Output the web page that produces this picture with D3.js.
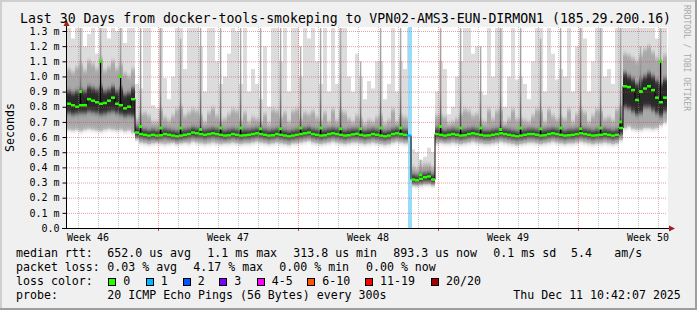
<!DOCTYPE html>
<html>
<head>
<meta charset="utf-8">
<script src="https://cdn.jsdelivr.net/npm/d3@7"></script>
<style>
html, body { margin: 0; padding: 0; background: #f0f0f0; }
svg { display: block; }
text { font-family: "DejaVu Sans Mono", monospace; fill: #000; }
</style>
</head>
<body>
<div id="chart"></div>
<script>
// time range of the graph, one bin = 4.8 hours (4 px)
const startTime = new Date(2025, 10, 11, 10, 42);
const endTime = new Date(2025, 11, 11, 10, 42);
const binHours = 4.8;

// median rtt per bin (ms)
const binMedian = [
  .82,.81,.80,.81,.81,.85,.84,.83,.82,.825,
  .84,.86,.82,.81,.79,.80,.85,.63,.62,.615,
  .61,.615,.61,.612,.62,.615,.61,.605,.61,.615,
  .62,.63,.625,.62,.615,.62,.625,.62,.615,.61,
  .612,.62,.615,.61,.612,.615,.62,.625,.62,.615,
  .61,.612,.62,.615,.61,.605,.61,.615,.62,.625,
  .63,.62,.615,.61,.612,.62,.625,.62,.615,.61,
  .612,.618,.622,.615,.61,.612,.62,.615,.61,.605,
  .61,.62,.625,.62,.615,.61,.32,.315,.325,.335,
  .34,.32,.62,.615,.61,.615,.62,.615,.61,.612,
  .62,.625,.62,.615,.61,.61,.615,.62,.625,.62,
  .615,.61,.605,.61,.615,.62,.62,.615,.61,.612,
  .62,.625,.62,.615,.61,.612,.615,.62,.625,.62,
  .615,.61,.612,.615,.62,.615,.61,.615,.66,.935,
  .93,.91,.845,.9,.92,.935,.91,.86,.83,.86
];
// fastest ping per bin
const binMin = [
  .65,.645,.65,.64,.65,.655,.65,.645,.64,.65,
  .655,.65,.645,.65,.64,.645,.63,.59,.565,.56,
  .555,.56,.565,.56,.555,.56,.565,.555,.56,.565,
  .56,.57,.565,.56,.555,.56,.565,.56,.555,.56,
  .56,.565,.56,.555,.56,.56,.565,.57,.565,.56,
  .555,.56,.565,.56,.555,.55,.56,.56,.565,.57,
  .575,.565,.56,.555,.56,.565,.57,.565,.56,.555,
  .56,.565,.565,.56,.555,.56,.565,.56,.555,.55,
  .555,.565,.57,.565,.56,.56,.285,.28,.285,.29,
  .29,.285,.56,.565,.56,.56,.565,.56,.555,.56,
  .565,.57,.565,.56,.555,.555,.56,.565,.57,.565,
  .56,.555,.55,.555,.56,.565,.565,.56,.555,.56,
  .565,.57,.565,.56,.555,.56,.56,.565,.57,.565,
  .56,.555,.56,.56,.565,.56,.555,.56,.58,.66,
  .67,.655,.65,.65,.66,.66,.655,.66,.68,.70
];
// lower quartile
const binQ1 = [
  .76,.75,.755,.76,.76,.77,.765,.76,.75,.755,
  .765,.77,.76,.75,.74,.745,.74,.605,.60,.595,
  .59,.595,.59,.595,.60,.595,.59,.585,.59,.595,
  .60,.605,.60,.60,.595,.60,.605,.60,.595,.59,
  .595,.60,.595,.59,.595,.595,.60,.605,.60,.595,
  .59,.595,.60,.595,.59,.585,.59,.595,.60,.605,
  .61,.60,.595,.59,.595,.60,.605,.60,.595,.59,
  .595,.60,.60,.595,.59,.595,.60,.595,.59,.585,
  .59,.60,.605,.60,.595,.595,.30,.30,.305,.31,
  .31,.30,.60,.595,.59,.595,.60,.595,.59,.595,
  .60,.605,.60,.595,.59,.59,.595,.60,.605,.60,
  .595,.59,.585,.59,.595,.60,.60,.595,.59,.595,
  .60,.605,.60,.595,.59,.595,.595,.60,.605,.60,
  .595,.59,.595,.595,.60,.595,.59,.595,.62,.80,
  .79,.77,.75,.76,.80,.80,.78,.76,.74,.77
];
// upper quartile
const binQ3 = [
  .90,.89,.90,.91,.90,.93,.92,.91,.93,.90,
  .91,.93,.90,.92,.88,.89,.92,.665,.65,.645,
  .64,.645,.64,.645,.65,.645,.64,.635,.64,.645,
  .65,.66,.655,.65,.645,.65,.655,.65,.645,.64,
  .645,.65,.645,.64,.645,.645,.65,.655,.65,.645,
  .64,.645,.65,.645,.64,.635,.64,.645,.65,.655,
  .66,.65,.645,.64,.645,.65,.655,.65,.645,.64,
  .645,.65,.65,.645,.64,.645,.65,.645,.64,.635,
  .64,.65,.655,.65,.645,.645,.35,.345,.355,.36,
  .365,.35,.655,.645,.64,.645,.65,.645,.64,.645,
  .65,.655,.65,.645,.64,.64,.645,.65,.655,.65,
  .645,.64,.635,.64,.645,.65,.65,.645,.64,.645,
  .65,.655,.65,.645,.64,.645,.645,.65,.655,.65,
  .645,.64,.645,.645,.65,.645,.64,.645,.70,1.02,
  1.0,.98,.95,.98,1.0,1.02,1.0,.97,.95,.98
];
// 90th percentile
const binP90 = [
  1.05,1.03,1.06,1.08,1.04,1.1,1.08,1.05,1.12,1.04,
  1.06,1.1,1.05,1.08,1.02,1.0,1.05,.72,.75,.76,
  .74,.70,.70,.78,.73,.71,.74,.78,.80,.74,
  .76,.78,.77,.74,.70,.76,.79,.74,.71,.72,
  .75,.78,.77,.71,.76,.70,.73,.72,.70,.75,
  .69,.78,.77,.73,.76,.70,.77,.78,.72,.76,
  .75,.77,.73,.71,.76,.70,.78,.71,.77,.76,
  .72,.70,.74,.72,.69,.71,.70,.73,.74,.69,
  .71,.78,.70,.74,.73,.72,.40,.39,.41,.42,
  .42,.40,.74,.74,.73,.69,.70,.72,.75,.78,
  .77,.74,.75,.71,.70,.78,.72,.77,.78,.69,
  .72,.78,.72,.72,.71,.70,.74,.78,.77,.70,
  .78,.74,.72,.73,.72,.78,.70,.75,.78,.76,
  .70,.74,.78,.77,.72,.73,.71,.78,.80,1.15,
  1.14,1.12,1.1,1.14,1.18,1.2,1.16,1.12,1.1,1.14
];
// slowest ping per bin
const binMax = [
  1.32,1.25,1.32,1.32,1.2,1.28,1.32,1.15,1.32,1.32,
  1.25,1.32,1.3,1.32,1.22,1.32,1.32,.95,.92,1.32,
  1.32,.81,.79,1.32,.99,.85,1.0,1.32,1.32,1.05,
  1.32,1.32,1.32,1.2,.9,1.32,1.32,1.1,.95,1.0,
  1.15,1.32,1.3,.95,1.32,.9,1.05,.95,.85,1.2,
  .8,1.32,1.32,1.1,1.32,.9,1.32,1.32,1.0,1.32,
  1.25,1.32,1.1,.95,1.32,.9,1.32,.95,1.32,1.32,
  1.0,.9,1.15,1.0,.85,.97,.92,1.1,1.1,.85,
  .95,1.32,.9,1.1,1.05,1.32,.52,.5,.45,.47,
  .53,.5,.9,1.1,1.05,.75,.8,1.0,1.1,1.32,
  1.32,1.15,1.2,.9,.88,1.32,1.0,1.32,1.32,.8,
  1.0,1.32,.98,1.0,.95,.85,1.1,1.32,1.32,.9,
  1.32,1.15,.98,1.05,1.0,1.32,.9,1.2,1.32,1.25,
  .9,1.1,1.32,1.32,1.0,1.05,.95,1.32,1.32,1.32,
  1.32,1.32,1.32,1.32,1.32,1.32,1.32,1.25,1.32,1.32
];

// daily 03:00 spikes, first one on Nov 12
const spikeMedian = [.90,1.10,1.00,.67,.66,.66,.65,.66,.66,.655,.655,.66,.66,.655,.655,
                     .66,.66,.35,.67,.66,.66,.65,.66,.655,.66,.655,.66,.70,.90,1.10];
const spikeMax = [1.32,1.32,1.32,1.32,1.32,1.25,1.32,1.32,1.32,1.32,1.32,1.2,1.32,1.32,1.1,
                  1.32,1.32,.45,1.32,1.32,1.2,1.32,1.32,1.25,1.32,1.32,1.32,1.32,1.2,1.32];

// bins with packet loss (lost pings of 20)
const lossBins = [85];
const lossCount = [1];

const lossLabels = ["0", "1", "2", "3", "4-5", "6-10", "11-19", "20/20"];
const lossColors = ["#26ff00", "#00b8ff", "#0059ff", "#7e00ff", "#ff00ff", "#ff5500", "#ff0000", "#a10000"];

const yTickValues = [0, .1, .2, .3, .4, .5, .6, .7, .8, .9, 1.0, 1.1, 1.2, 1.3];
const yTickLabels = ["0.0", "0.1 m", "0.2 m", "0.3 m", "0.4 m", "0.5 m", "0.6 m", "0.7 m",
                     "0.8 m", "0.9 m", "1.0 m", "1.1 m", "1.2 m", "1.3 m"];
const weekLabels = ["Week 46", "Week 47", "Week 48", "Week 49", "Week 50"];
const weekMid = [new Date(2025, 10, 12, 12), new Date(2025, 10, 19, 12), new Date(2025, 10, 26, 12),
                 new Date(2025, 11, 3, 12), new Date(2025, 11, 10, 12)];

const W = 697, H = 310;
const x = d3.scaleTime().domain([startTime, endTime]).range([67, 667]);
const y = d3.scaleLinear().domain([0, 1.3]).range([228, 31]);
const binTime = i => new Date(+startTime + i * binHours * 3600e3);
const nb = binMedian.length;
const val = (arr, i) => arr[Math.min(i, nb - 1)];
const idx = d3.range(nb + 1);

const svg = d3.select("#chart").append("svg").attr("width", W).attr("height", H);

// background and 3d frame
svg.append("rect").attr("width", W).attr("height", H).attr("fill", "#f0f0f0");
svg.append("rect").attr("width", W).attr("height", 2).attr("fill", "#cfcfcf");
svg.append("rect").attr("width", 2).attr("height", H).attr("fill", "#cfcfcf");
svg.append("rect").attr("y", H - 2).attr("width", W).attr("height", 2).attr("fill", "#9e9e9e");
svg.append("rect").attr("x", W - 2).attr("width", 2).attr("height", H).attr("fill", "#9e9e9e");

const defs = svg.append("defs");
defs.append("clipPath").attr("id", "plot")
  .append("rect").attr("x", 67).attr("y", 27).attr("width", 601).attr("height", 201);
defs.append("filter").attr("id", "blur1")
  .attr("x", "-5%").attr("y", "-30%").attr("width", "110%").attr("height", "160%")
  .append("feGaussianBlur").attr("stdDeviation", "0 2.5");
defs.append("filter").attr("id", "blur2")
  .attr("x", "-5%").attr("y", "-30%").attr("width", "110%").attr("height", "160%")
  .append("feGaussianBlur").attr("stdDeviation", "0 2.5");
const grad = defs.append("linearGradient").attr("id", "spikeGrad")
  .attr("x1", 0).attr("y1", 1).attr("x2", 0).attr("y2", 0);
grad.append("stop").attr("offset", "0%").attr("stop-color", "#111");
grad.append("stop").attr("offset", "12%").attr("stop-color", "#555");
grad.append("stop").attr("offset", "40%").attr("stop-color", "#8e8e8e");
grad.append("stop").attr("offset", "100%").attr("stop-color", "#b0b0b0");

// canvas
svg.append("rect").attr("x", 67).attr("y", 27).attr("width", 601).attr("height", 201).attr("fill", "#fff");

const plot = svg.append("g").attr("clip-path", "url(#plot)");

// smoke
const band = (lo, hi) => d3.area().curve(d3.curveStepAfter)
  .x(i => x(binTime(i)))
  .y0(i => y(val(lo, i)))
  .y1(i => y(val(hi, i)));

plot.append("path").datum(idx).attr("d", band(binMin, binMax)).attr("fill", "#dcdcdc");
plot.append("path").datum(idx).attr("d", band(binMin, binP90)).attr("fill", "#a8a8a8")
  .attr("filter", "url(#blur2)");
plot.append("path").datum(idx).attr("d", band(binQ1, binQ3)).attr("fill", "#2a2a2a")
  .attr("filter", "url(#blur1)");

// daily spikes
const spikeTime = d => new Date(2025, 10, 12 + d, 3, 0);
const binOf = t => Math.floor((t - startTime) / (binHours * 3600e3));
plot.selectAll(".spike").data(spikeMedian).join("rect")
  .attr("x", (d, i) => x(spikeTime(i)) - 0.75)
  .attr("width", 1.5)
  .attr("y", (d, i) => y(spikeMax[i]))
  .attr("height", (d, i) => y(binMedian[binOf(spikeTime(i))]) - y(spikeMax[i]))
  .attr("fill", "url(#spikeGrad)");

// loss bars
const lightLoss = c => d3.interpolateRgb(c, "#f4f4f4")(0.62);
plot.selectAll(".lossbar").data(lossBins).join("rect")
  .attr("x", b => x(binTime(b)) + 1)
  .attr("width", b => x(binTime(b + 1)) - x(binTime(b)))
  .attr("y", 27).attr("height", 201)
  .attr("fill", (b, i) => lightLoss(lossColors[Math.min(lossCount[i], 3)]));

// grid
const gridH = svg.append("g");
yTickValues.slice(1).forEach(v => {
  gridH.append("line").attr("x1", 67).attr("x2", 667).attr("y1", y(v) + 0.5).attr("y2", y(v) + 0.5)
    .attr("stroke", "rgba(215,60,60,0.5)").attr("stroke-dasharray", "1,1");
});
d3.timeDay.range(startTime, endTime).forEach(t => {
  const sunday = t.getDay() === 0;
  gridH.append("line").attr("x1", Math.round(x(t)) + 0.5).attr("x2", Math.round(x(t)) + 0.5)
    .attr("y1", 27).attr("y2", 228)
    .attr("stroke", sunday ? "rgba(215,60,60,0.5)" : "rgba(140,140,140,0.5)")
    .attr("stroke-dasharray", "1,1");
  if (sunday) {
    svg.append("line").attr("x1", Math.round(x(t)) + 0.5).attr("x2", Math.round(x(t)) + 0.5)
      .attr("y1", 229).attr("y2", 231).attr("stroke", "#d04040");
  }
});

// median
const lossOf = i => {
  const k = lossBins.indexOf(i);
  return k < 0 ? 0 : lossCount[k];
};
plot.append("path").datum(idx)
  .attr("d", d3.line().curve(d3.curveStepAfter).x(i => x(binTime(i))).y(i => y(val(binMedian, i))))
  .attr("fill", "none").attr("stroke", "#000").attr("stroke-width", 1);
plot.selectAll(".spikeline").data(spikeMedian).join("line")
  .attr("x1", (d, i) => x(spikeTime(i))).attr("x2", (d, i) => x(spikeTime(i)))
  .attr("y1", (d, i) => y(binMedian[binOf(spikeTime(i))])).attr("y2", d => y(d))
  .attr("stroke", "#000").attr("stroke-width", 1.2);
plot.selectAll(".med").data(binMedian).join("line")
  .attr("x1", (d, i) => x(binTime(i)))
  .attr("x2", (d, i) => x(binTime(i + 1)))
  .attr("y1", d => y(d)).attr("y2", d => y(d))
  .attr("stroke", (d, i) => lossColors[Math.min(lossOf(i), 3)])
  .attr("stroke-width", 2.5);
plot.selectAll(".spikedot").data(spikeMedian).join("rect")
  .attr("x", (d, i) => x(spikeTime(i)) - 1.5).attr("width", 3)
  .attr("y", d => y(d) - 1.5).attr("height", 3)
  .attr("fill", lossColors[0]);

// axes
const yAxis = svg.append("g").attr("transform", "translate(66.5,0)")
  .call(d3.axisLeft(y).tickValues(yTickValues).tickSize(4).tickPadding(3)
    .tickFormat((d, i) => yTickLabels[i]));
yAxis.select(".domain").remove();
yAxis.selectAll("text").style("font-family", "DejaVu Sans Mono").style("font-size", "10px").attr("fill", "#000");
yAxis.selectAll("line").attr("stroke", "#000");

svg.append("line").attr("x1", 66.5).attr("x2", 66.5).attr("y1", 229).attr("y2", 25).attr("stroke", "#000");
svg.append("line").attr("x1", 62).attr("x2", 671).attr("y1", 228.5).attr("y2", 228.5).attr("stroke", "#000");
svg.append("path").attr("d", "M63.5,26 L69.5,26 L66.5,20 Z").attr("fill", "#a02020");
svg.append("path").attr("d", "M669,225.5 L669,231.5 L675,228.5 Z").attr("fill", "#a02020");

svg.selectAll(".week").data(weekLabels).join("text")
  .attr("x", (d, i) => x(weekMid[i])).attr("y", 241)
  .attr("text-anchor", "middle").style("font-size", "10px")
  .text(d => d);

// title and side texts
svg.append("text").attr("x", 20).attr("y", 23.3).style("font-size", "13.2px")
  .text("Last 30 Days from docker-tools-smokeping to VPN02-AMS3-EUN-DIRMON1 (185.29.200.16)");
svg.append("text").attr("transform", "translate(14,127.5) rotate(-90)")
  .attr("text-anchor", "middle").style("font-size", "11.6px").text("Seconds");
svg.append("text").attr("transform", "translate(684,5) rotate(90)")
  .style("font-size", "8px").style("fill", "#a8a8a8").text("RRDTOOL / TOBI OETIKER");

// legend
const legendRows = [
  {y: 257, items: [[16, "median rtt:"], [107.3, "652.0 us avg"], [207.3, "1.1 ms max"], [293.3, "313.8 us min"],
                   [393.3, "893.3 us now"], [493.3, "0.1 ms sd"], [571, "5.4"], [614.3, "am/s"]]},
  {y: 271, items: [[16, "packet loss:"], [107.3, "0.03 % avg"], [193.3, "4.17 % max"], [279.3, "0.00 % min"],
                   [366, "0.00 % now"]]},
  {y: 285, items: [[16, "loss color:"]]},
  {y: 298.5, items: [[16, "probe:"], [107.3, "20 ICMP Echo Pings (56 Bytes) every 300s"],
                     [513.3, "Thu Dec 11 10:42:07 2025"]]}
];
legendRows.forEach(r => {
  r.items.forEach(([lx, s]) => {
    svg.append("text").attr("x", lx).attr("y", r.y).style("font-size", "11.6px")
      .attr("xml:space", "preserve").text(s);
  });
});
const boxX = [108.3, 145.7, 182.7, 219.3, 256.7, 307.3, 365, 431];
lossLabels.forEach((lab, i) => {
  svg.append("rect").attr("x", Math.round(boxX[i]) + 0.5).attr("y", 278.5)
    .attr("width", 7).attr("height", 7).attr("fill", lossColors[i]).attr("stroke", "#000");
  svg.append("text").attr("x", boxX[i] + 15).attr("y", 285).style("font-size", "11.6px").text(lab);
});
</script>
</body>
</html>
